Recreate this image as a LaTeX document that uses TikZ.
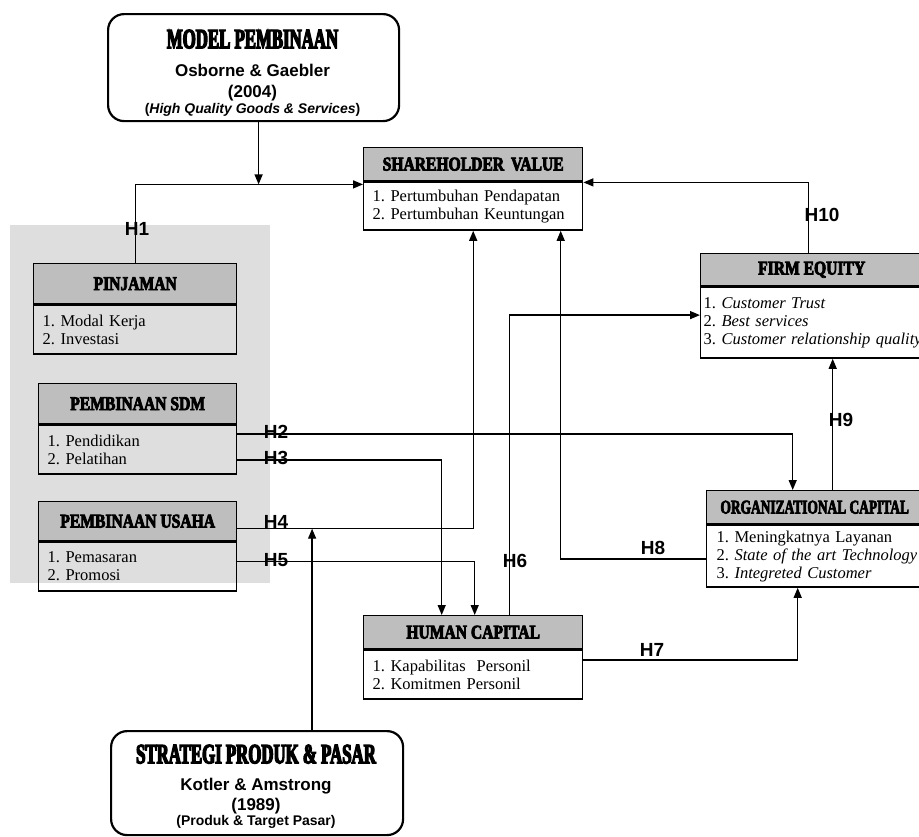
\documentclass[tikz,border=0pt]{standalone}
\usepackage{fontspec}
\usepackage{graphicx}
\setmainfont{Liberation Serif}
\newfontfamily\arialfont{Liberation Sans}
\newfontfamily\posterfont[FakeStretch=0.6,FakeBold=4.5]{Liberation Serif}
\newfontfamily\headfont[FakeStretch=0.8,FakeBold=4]{Liberation Serif}
\usetikzlibrary{positioning, arrows.meta, calc}
\definecolor{headgray}{RGB}{190,190,190}
\definecolor{bggray}{RGB}{222,222,222}
\frenchspacing

\begin{document}
\begin{tikzpicture}[x=1pt, y=-1pt, line width=1.4pt,
  head/.style={draw, fill=headgray, inner sep=0pt, anchor=north west, font=\headfont\bfseries\fontsize{19.5}{22}\selectfont},
  body/.style={draw, anchor=north, inner xsep=9pt, inner ysep=0pt, align=left, font=\fontsize{16.5}{18}\selectfont},
  roundbox/.style={draw, line width=2.2pt, rounded corners=16pt, fill=white, anchor=north west},
  boxtext/.style={align=center, anchor=north, inner sep=0pt, font=\fontsize{15}{15}\selectfont},
  link/.style={-{Triangle[length=10pt,width=8pt]}},
  hlabel/.style={font=\arialfont\bfseries\fontsize{19}{22}\selectfont, inner sep=0pt}
]
\useasboundingbox (0,0) rectangle (919,836);
\fill[white] (0,0) rectangle (919,836);
\fill[bggray] (10,225) rectangle (270,583);

% sources
\node[roundbox, minimum width=291pt, minimum height=107pt] (model) at (107,13) {};
\node[boxtext] (modeltext) at (252.5,29) {%
  {\posterfont\bfseries\fontsize{28}{15}\selectfont MODEL PEMBINAAN}\\[13pt]
  {\arialfont\bfseries\fontsize{17}{15}\selectfont Osborne \& Gaebler}\\[6pt]
  {\arialfont\bfseries\fontsize{17}{15}\selectfont (2004)}\\[1pt]
  {\arialfont\bfseries\fontsize{14}{15}\selectfont (\textit{High Quality Goods \& Services})}};
\node[roundbox, minimum width=292pt, minimum height=104pt] (strat) at (110,730) {};
\node[boxtext] (strattext) at (256,744) {%
  {\posterfont\bfseries\fontsize{28}{15}\selectfont STRATEGI PRODUK \& PASAR}\\[12pt]
  {\arialfont\bfseries\fontsize{17}{15}\selectfont Kotler \& Amstrong}\\[3pt]
  {\arialfont\bfseries\fontsize{17}{15}\selectfont (1989)}\\
  {\arialfont\bfseries\fontsize{14}{15}\selectfont (Produk \& Target Pasar)}};

% pembinaan
\node[head, minimum width=203pt, minimum height=40pt] (pinh) at (33,263) {PINJAMAN};
\node[body, text width=185pt, minimum height=49pt] (pinb) at (pinh.south) {1. Modal Kerja\\2. Investasi};
\node[head, minimum width=198pt, minimum height=40pt] (sdmh) at (38,383) {PEMBINAAN SDM};
\node[body, text width=180pt, minimum height=49pt] (sdmb) at (sdmh.south) {1. Pendidikan\\2. Pelatihan};
\node[head, minimum width=198pt, minimum height=39pt] (usah) at (38,501) {PEMBINAAN USAHA};
\node[body, text width=180pt, minimum height=49pt] (usab) at (usah.south) {1. Pemasaran\\2. Promosi};

% capitals
\node[head, minimum width=219pt, minimum height=33pt] (shh) at (363,147) {SHAREHOLDER\hspace{7pt}VALUE};
\node[body, fill=white, text width=201pt, minimum height=48pt] (shb) at (shh.south) {1. Pertumbuhan Pendapatan\\2. Pertumbuhan Keuntungan};
\node[head, minimum width=219pt, minimum height=33pt] (hch) at (363,615) {HUMAN CAPITAL};
\node[body, fill=white, text width=201pt, minimum height=49pt] (hcb) at (hch.south) {1. Kapabilitas\ \ Personil\\2. Komitmen Personil};
\node[head, minimum width=222pt, minimum height=32pt] (firmh) at (700,253) {FIRM EQUITY};
\node[body, fill=white, inner xsep=3pt, text width=232pt, minimum height=71pt, anchor=north west] (firmb) at (firmh.south west)
  {1. \textit{Customer Trust}\\2. \textit{Best services}\\3. \textit{Customer relationship quality}};
\node[head, minimum width=216pt, minimum height=33pt] (orgh) at (706,490) {\scalebox{0.86}[1]{ORGANIZATIONAL CAPITAL}};
\node[body, fill=white, inner xsep=10pt, text width=210pt, minimum height=62pt, anchor=north west] (orgb) at (orgh.south west)
  {1. Meningkatnya Layanan\\2. \textit{State of the art Technology}\\3. \textit{Integreted Customer}};

% hypotheses
\coordinate (j1) at ([yshift=-3pt]shh.south west);
\coordinate (m1) at ([xshift=5pt]model.south);
\draw[link] (m1) -- (m1 |- j1);
\draw[link] (pinh.north) |- (j1);
\draw[link] ([yshift=15.5pt]sdmb.east) -| ([xshift=-22pt]orgh.north);
\draw[link] ([yshift=-10.5pt]sdmb.east) -| ([xshift=-31.5pt]hch.north);
\coordinate (h4) at ([yshift=-7.5pt]usah.east);
\draw[link] (h4) -| (shb.south);
\coordinate (s1) at ([xshift=55pt]strat.north);
\draw[link] (s1) -- (s1 |- h4);
\draw[link] ([yshift=5pt]usab.east) -| ([xshift=1.5pt]hch.north);
\draw[link] ([xshift=36.5pt]hch.north) |- ([yshift=7.5pt]firmb.west);
\coordinate (o7) at ([xshift=-17pt]orgh.north);
\draw[link] ([yshift=14.5pt]hcb.east) -| (o7 |- orgb.south);
\draw[link] ([yshift=-3pt]orgb.west) -| ([xshift=87.5pt]shb.south);
\coordinate (o9) at ([xshift=18pt]orgh.north);
\draw[link] (o9) -- (o9 |- firmb.south);
\draw[link] ([xshift=-3pt]firmh.north) |- ([yshift=-1pt]shh.south east);

\foreach \n/\p in {1/{(137,229)}, 2/{(276,432)}, 3/{(276,458)}, 4/{(276,522)}, 5/{(276,560)},
  6/{(515,561)}, 7/{(652,650)}, 8/{(653,548)}, 9/{(841,420)}, 10/{(822,215)}}
  \node[hlabel] (h\n) at \p {H\n};
\end{tikzpicture}
\end{document}
